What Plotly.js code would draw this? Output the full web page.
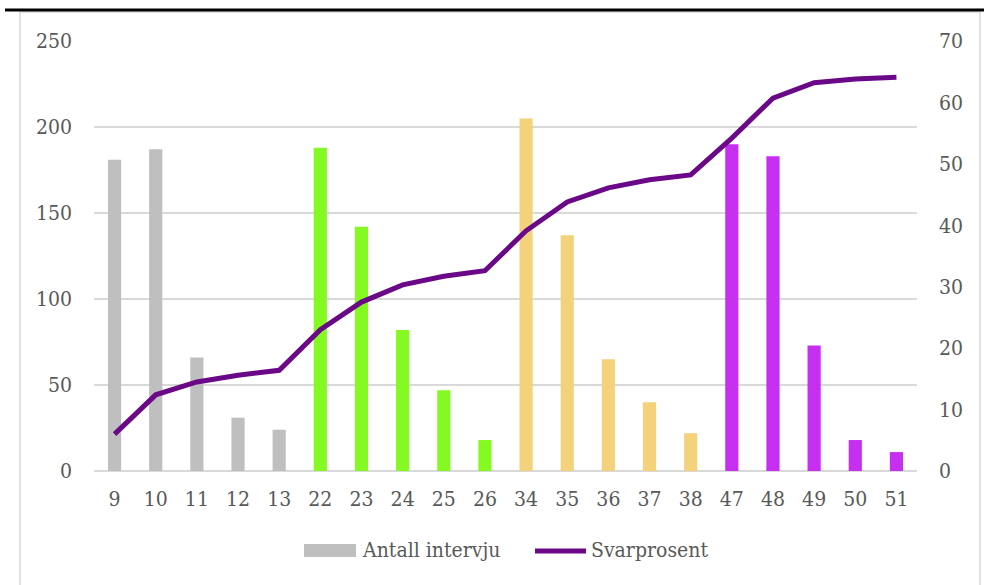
<!DOCTYPE html>
<html>
<head>
<meta charset="utf-8">
<script src="https://cdn.plot.ly/plotly-3.0.1.min.js"></script>
<style>html,body{margin:0;padding:0;background:#fff;}#chart{width:984px;height:585px;}</style>
</head>
<body>
<div id="chart"></div>
<script>
// Data
const categories = ['9','10','11','12','13','22','23','24','25','26','34','35','36','37','38','47','48','49','50','51'];
const antallIntervju = [181, 187, 66, 31, 24, 188, 142, 82, 47, 18, 205, 137, 65, 40, 22, 190, 183, 73, 18, 11];
const svarprosent = [6.0, 12.4, 14.5, 15.6, 16.4, 23.0, 27.5, 30.3, 31.7, 32.6, 39.1, 43.8, 46.1, 47.4, 48.2, 54.2, 60.7, 63.2, 63.8, 64.1];
const leftTicks = [0, 50, 100, 150, 200, 250];
const rightTicks = [0, 10, 20, 30, 40, 50, 60, 70];

// Styles
const GRAY = '#BFBFBF', GREEN = '#85FA22', GOLD = '#F3D27B', MAGENTA = '#C62EF0';
const barColors = [GRAY,GRAY,GRAY,GRAY,GRAY, GREEN,GREEN,GREEN,GREEN,GREEN, GOLD,GOLD,GOLD,GOLD,GOLD, MAGENTA,MAGENTA,MAGENTA,MAGENTA,MAGENTA];
const LINE = '#6A0888';
const FONT = {family: 'DejaVu Serif Condensed, DejaVu Serif', size: 21, color: '#595959'};

const traces = [
  {type: 'bar', x: categories, y: antallIntervju, name: 'Antall intervju',
   marker: {color: barColors}, yaxis: 'y', showlegend: false, hoverinfo: 'x+y'},
  {type: 'scatter', mode: 'lines', x: categories, y: svarprosent, name: 'Svarprosent',
   line: {color: LINE, width: 5}, yaxis: 'y2', showlegend: false}
];

// paper-coordinate helpers (plot area: x 94..917, y 41..471)
const px = v => (v - 94) / 823;
const py = v => (471 - v) / 430;

const layout = {
  width: 984, height: 585,
  margin: {l: 94, r: 67, t: 41, b: 114},
  paper_bgcolor: '#ffffff', plot_bgcolor: '#ffffff',
  font: FONT,
  bargap: 0.68,
  xaxis: {type: 'category', tickfont: FONT, showgrid: false, zeroline: false,
          showline: false, ticks: '', ticklabelstandoff: 13, fixedrange: true},
  yaxis: {range: [0, 250], tickvals: leftTicks, tickfont: FONT, showgrid: true,
          gridcolor: '#D9D9D9', gridwidth: 1.5, zeroline: true, zerolinecolor: '#D9D9D9',
          zerolinewidth: 1.5, showline: false, ticks: '', ticklabelstandoff: 21},
  yaxis2: {range: [0, 70], tickvals: rightTicks, tickfont: FONT, overlaying: 'y', side: 'right',
           showgrid: false, zeroline: false, showline: false, ticks: '', ticklabelstandoff: 21},
  shapes: [
    {type: 'rect', xref: 'paper', yref: 'paper', x0: px(20), x1: px(980), y0: py(640), y1: py(12),
     line: {color: '#D9D9D9', width: 1.5}, fillcolor: 'rgba(0,0,0,0)', layer: 'below'},
    {type: 'line', xref: 'paper', yref: 'paper', x0: px(5), x1: px(990), y0: py(10), y1: py(10),
     line: {color: '#000000', width: 3}},
    {type: 'rect', xref: 'paper', yref: 'paper', x0: px(304), x1: px(356), y0: py(557), y1: py(544),
     line: {width: 0}, fillcolor: GRAY},
    {type: 'line', xref: 'paper', yref: 'paper', x0: px(535), x1: px(586), y0: py(551), y1: py(551),
     line: {color: LINE, width: 5}}
  ],
  annotations: [
    {xref: 'paper', yref: 'paper', x: px(360), y: py(550), xanchor: 'left', yanchor: 'middle',
     text: 'Antall intervju', showarrow: false, font: FONT},
    {xref: 'paper', yref: 'paper', x: px(589), y: py(550), xanchor: 'left', yanchor: 'middle',
     text: 'Svarprosent', showarrow: false, font: FONT}
  ]
};

Plotly.newPlot('chart', traces, layout, {displayModeBar: false, staticPlot: true});
</script>
</body>
</html>
